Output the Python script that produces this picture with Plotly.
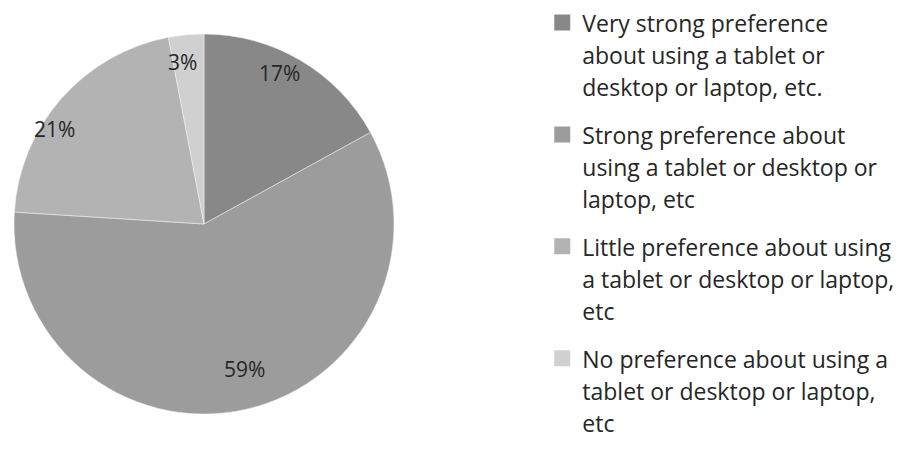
import math
import plotly.graph_objects as go

labels = [
    "Very strong preference<br>about using a tablet or<br>desktop or laptop, etc.",
    "Strong preference about<br>using a tablet or desktop or<br>laptop, etc",
    "Little preference about using<br>a tablet or desktop or laptop,<br>etc",
    "No preference about using a<br>tablet or desktop or laptop,<br>etc",
]
values = [17, 59, 21, 3]
colors = ["#888888", "#9c9c9c", "#b3b3b3", "#d0d0d0"]
label_radius = [0.89, 0.79, 0.93, 0.86]
label_angle_shift = [-4, -3, -9, -2]

W, H = 916, 466
cx, cy, R = 204, 224, 190
FONT = "Open Sans, Lato, sans-serif"

def wrap(t):
    return "<br>".join(f"<span style='font-size:23px'>{p}</span>" for p in t.split("<br>"))

fig = go.Figure()
fig.add_trace(go.Pie(
    labels=labels,
    values=values,
    sort=False,
    direction="clockwise",
    rotation=0,
    marker=dict(colors=colors, line=dict(color="#f2f2f2", width=0.5)),
    textinfo="none",
    hoverinfo="label+percent",
    showlegend=False,
    domain=dict(x=[(cx - R) / W, (cx + R) / W], y=[1 - (cy + R) / H, 1 - (cy - R) / H]),
))

# legend entries (one per slice) so that item spacing can be controlled
for i, (lab, col) in enumerate(zip(labels, colors)):
    fig.add_trace(go.Scatter(
        x=[None], y=[None], mode="markers",
        marker=dict(symbol="square", size=16, color=col),
        name=wrap(lab), legendgroup=f"g{i}", showlegend=True, hoverinfo="skip",
    ))

total = sum(values)
cum = 0
annotations = []
for v, rf, sh in zip(values, label_radius, label_angle_shift):
    mid = (cum + v / 2) / total * 360 + sh
    cum += v
    a = math.radians(mid)
    px = cx + rf * R * math.sin(a)
    py = cy - rf * R * math.cos(a)
    annotations.append(dict(
        x=px / W, y=1 - py / H, xref="paper", yref="paper",
        xanchor="center", yanchor="middle",
        text=f"{round(v / total * 100)}%", showarrow=False,
        font=dict(size=21, color="#262626", family=FONT),
    ))

fig.update_layout(
    width=W, height=H,
    margin=dict(l=0, r=0, t=0, b=0),
    paper_bgcolor="white",
    plot_bgcolor="white",
    showlegend=True,
    annotations=annotations,
    xaxis=dict(visible=False),
    yaxis=dict(visible=False),
    legend=dict(
        x=0.592, y=1.0, xanchor="left", yanchor="top",
        font=dict(size=24.6, color="#262626", family=FONT),
        valign="top",
        traceorder="grouped",
        tracegroupgap=13,
        bgcolor="rgba(0,0,0,0)",
    ),
)

fig.write_html("out.html")
